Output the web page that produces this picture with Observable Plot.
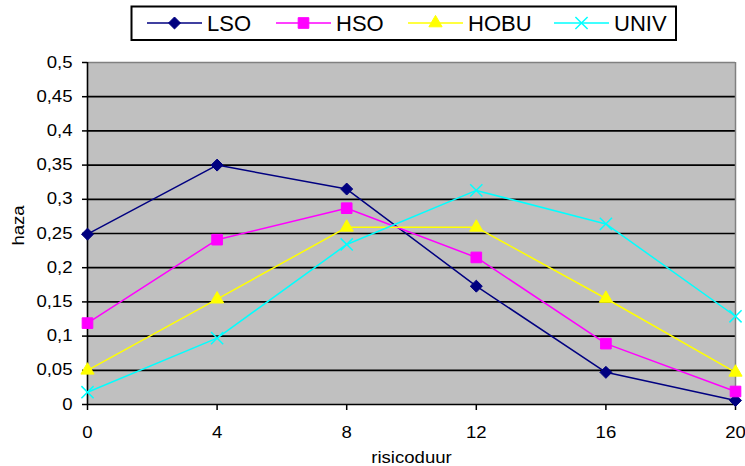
<!DOCTYPE html>
<html><head><meta charset="utf-8">
<script src="https://cdn.jsdelivr.net/npm/d3@7"></script>
<script src="https://cdn.jsdelivr.net/npm/@observablehq/plot@0.6"></script>
<style>
body{margin:0;background:#fff;font-family:"Liberation Sans",Arial,sans-serif;}
#wrap{position:relative;width:745px;height:466px;overflow:hidden;}
#legend{height:48px;position:relative;}
#chart svg{display:block;}
</style></head><body><div id="wrap"><div id="legend"></div><div id="chart"></div></div>
<script>
const xValues = [0, 4, 8, 12, 16, 20];
const seriesNames = ["LSO", "HSO", "HOBU", "UNIV"];
const lso  = [0.249, 0.350, 0.315, 0.173, 0.047, 0.006];
const hso  = [0.119, 0.241, 0.287, 0.215, 0.089, 0.019];
const hobu = [0.050, 0.154, 0.259, 0.259, 0.155, 0.047];
const univ = [0.018, 0.097, 0.234, 0.313, 0.264, 0.129];
const seriesColors = ["#000080", "#ff00ff", "#ffff00", "#00ffff"];
const seriesSymbols = ["diamond2", "square", "triangle", "times"];
const yTicks = [0, 0.05, 0.1, 0.15, 0.2, 0.25, 0.3, 0.35, 0.4, 0.45, 0.5];
const xTicks = [0, 4, 8, 12, 16, 20];
const xLabel = "risicoduur";
const yLabel = "haza";

// layout (legend entry line starts, px)
const legendLineX = [147, 276, 408, 554];

const seriesValues = [lso, hso, hobu, univ];
const rows = [];
seriesNames.forEach((s, i) => xValues.forEach((x, j) => rows.push({series: s, x, y: seriesValues[i][j]})));

const fmt = d => String(d).replace(".", ",");
const symR = {diamond2: 5.4, square: 6.0, triangle: 4.9, times: 5.6};
const symFilled = {diamond2: true, square: true, triangle: true, times: false};
const FONT = "'Liberation Sans', Arial, sans-serif";

const dotMarks = seriesNames.map((s, i) => {
  const sym = seriesSymbols[i];
  return Plot.dot(rows.filter(d => d.series === s), {
    x: "x", y: "y", symbol: () => sym, r: symR[sym],
    fill: symFilled[sym] ? "series" : "none",
    stroke: "series", strokeWidth: symFilled[sym] ? 1 : 1.5
  });
});

const chart = Plot.plot({
  width: 745, height: 418,
  marginTop: 14, marginBottom: 62, marginLeft: 87, marginRight: 10,
  style: {fontFamily: FONT, fontSize: "16px", background: "transparent", color: "#000"},
  x: {domain: [0, 20]},
  y: {domain: [0, 0.5]},
  color: {domain: seriesNames, range: seriesColors},
  symbol: {domain: seriesSymbols, range: seriesSymbols},
  marks: [
    Plot.frame({fill: "#c0c0c0", stroke: null}),
    Plot.ruleY(yTicks.filter(d => d > 0 && d < 0.5), {stroke: "#000", strokeWidth: 1.7}),
    Plot.ruleY([0.5], {stroke: "#808080", strokeWidth: 1.5}),
    Plot.ruleX([20], {stroke: "#808080", strokeWidth: 1.5}),
    Plot.axisY({ticks: yTicks, tickSize: 5, tickPadding: 10, tickFormat: fmt, fontSize: 16, label: null, strokeWidth: 1.5}),
    Plot.axisX({ticks: xTicks, tickSize: 6, tickPadding: 16, fontSize: 16, label: null, strokeWidth: 1.5}),
    Plot.text([yLabel], {frameAnchor: "left", textAnchor: "middle", lineAnchor: "middle", dx: -69, dy: -8, rotate: -90, fontSize: 16, text: d => d}),
    Plot.text([xLabel], {frameAnchor: "bottom", lineAnchor: "middle", dy: 53, fontSize: 16, text: d => d}),
    Plot.ruleX([0], {stroke: "#000", strokeWidth: 1.6}),
    Plot.ruleY([0], {stroke: "#000", strokeWidth: 1.6}),
    Plot.line(rows, {x: "x", y: "y", z: "series", stroke: "series", strokeWidth: 1.5}),
    ...dotMarks
  ]
});
document.getElementById("chart").appendChild(chart);

// widen axis text slightly, as in the reference rendering
d3.select(chart).selectAll("text").each(function() {
  const len = this.getComputedTextLength();
  if (len > 0) {
    this.setAttribute("textLength", (len * 1.16).toFixed(2));
    this.setAttribute("lengthAdjust", "spacingAndGlyphs");
  }
});

// Legend
const lsvg = d3.select("#legend").append("svg").attr("width", 745).attr("height", 48).style("display", "block");
lsvg.append("rect").attr("x", 131.5).attr("y", 6.5).attr("width", 544.5).attr("height", 33.5)
  .attr("fill", "#fff").attr("stroke", "#000").attr("stroke-width", 2);
const cy = 23;
const symMap = {diamond2: d3.symbolDiamond2, square: d3.symbolSquare, triangle: d3.symbolTriangle, times: d3.symbolTimes};
seriesNames.forEach((s, i) => {
  const cx = legendLineX[i];
  const g = lsvg.append("g");
  g.append("line").attr("x1", cx).attr("x2", cx + 55).attr("y1", cy).attr("y2", cy).attr("stroke", seriesColors[i]).attr("stroke-width", 1.5);
  const sym = seriesSymbols[i];
  const r = symR[sym];
  g.append("path").attr("d", d3.symbol(symMap[sym], r * r * Math.PI)())
    .attr("transform", `translate(${cx + 27.5},${cy})`)
    .attr("fill", symFilled[sym] ? seriesColors[i] : "none")
    .attr("stroke", seriesColors[i]).attr("stroke-width", symFilled[sym] ? 1 : 1.5);
  g.append("text").attr("x", cx + 60).attr("y", cy).attr("dy", "0.36em")
    .attr("font-size", 22).attr("font-family", FONT).attr("fill", "#000").text(s);
});
</script>
</body></html>
